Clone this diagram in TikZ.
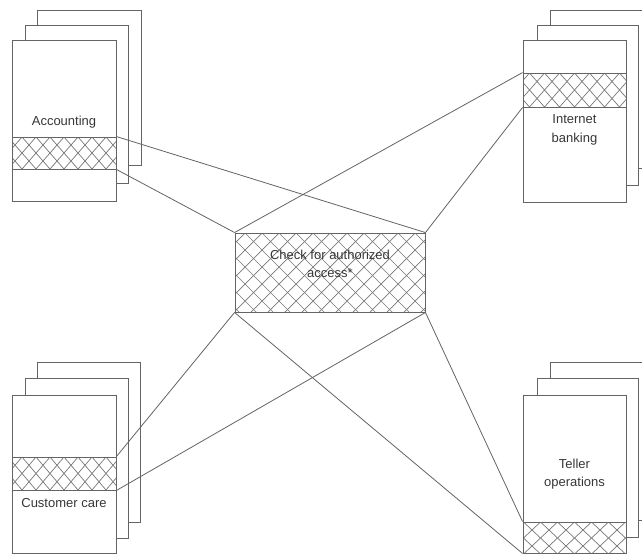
\documentclass[tikz,border=0pt]{standalone}
\usepackage{fontspec}
\setmainfont{Liberation Sans}
\definecolor{linec}{RGB}{100,100,100}
\definecolor{hatchc}{RGB}{120,120,120}
\definecolor{textc}{RGB}{55,55,55}
\tikzset{
  sheet/.style={draw=linec, fill=white, line width=0.9pt, rectangle, inner sep=0pt},
  lbl/.style={text=textc, font=\fontsize{13}{18}\selectfont, align=center, inner sep=0pt},
  link/.style={draw=linec, line width=0.8pt},
  % cross-hatched band: diamonds #1 wide and #2 high
  hatch/.style 2 args={draw=linec, line width=0.9pt, rectangle, inner sep=0pt,
    path picture={
      \foreach \k in {-16,...,16}{
        \draw[hatchc, line width=0.7pt]
          ([xshift=\k*#1]path picture bounding box.north) -- ++(6*#1,-6*#2);
        \draw[hatchc, line width=0.7pt]
          ([xshift=\k*#1]path picture bounding box.north) -- ++(-6*#1,-6*#2);
      }}},
}
% rectangle node from two corners given in pixel coordinates (y downwards)
\newcommand{\pbox}[6][sheet]{%
  \node[#1, minimum width={(#5-#3)*1pt}, minimum height={(#6-#4)*1pt}]
    (#2) at ({(#3+#5)/2},{(#4+#6)/2}) {};}
\begin{document}
\begin{tikzpicture}[x=1pt, y=-1pt]
\useasboundingbox (0,0) rectangle (642,555);
\fill[white] (0,0) rectangle (642,555);
\clip (0,0) rectangle (642,555);

% Accounting
\pbox{acc3}{37}{10}{141}{165}
\pbox{acc2}{25}{25}{128}{183}
\pbox{acc1}{12}{40}{116}{201}
\pbox[hatch={14pt}{16pt}]{accb}{12}{137}{116}{169}
\node[lbl] (acct) at (64,122) {Accounting};

% Internet banking
\pbox{ib3}{550}{10}{660}{168}
\pbox{ib2}{537}{25}{638}{185}
\pbox{ib1}{523}{40}{626}{202}
\pbox[hatch={15pt}{17pt}]{ibb}{523}{73}{626}{107}
\node[lbl] (ibt) at (574.5,130) {Internet\\[1pt]banking};

% Customer care
\pbox{cc3}{37}{362}{140}{522}
\pbox{cc2}{25}{378}{128}{538}
\pbox{cc1}{12}{395}{116}{553}
\pbox[hatch={14pt}{16.5pt}]{ccb}{12}{457}{116}{490}
\node[lbl] (cct) at (64,503) {Customer care};

% Teller operations
\pbox{to3}{550}{362}{660}{520}
\pbox{to2}{537}{378}{638}{537}
\pbox{to1}{523}{395}{626}{553}
\pbox[hatch={17pt}{16pt}]{tob}{523}{522}{626}{553}
\node[lbl] (tot) at (574.5,474) {Teller\\operations};

% Central check
\pbox[hatch={17pt}{17pt}]{chk}{235}{233}{425}{312}
\node[lbl] (chkt) at (330,264) {Check for authorized\\access*};

% Connectors
\draw[link] (accb.north east) -- (chk.north east);
\draw[link] (accb.south east) -- (chk.north west);
\draw[link] (ibb.north west) -- (chk.north west);
\draw[link] (ibb.south west) -- (chk.north east);
\draw[link] (ccb.north east) -- (chk.south west);
\draw[link] (ccb.south east) -- (chk.south east);
\draw[link] (tob.north west) -- (chk.south east);
\draw[link] (tob.south west) -- (chk.south west);
\end{tikzpicture}
\end{document}
